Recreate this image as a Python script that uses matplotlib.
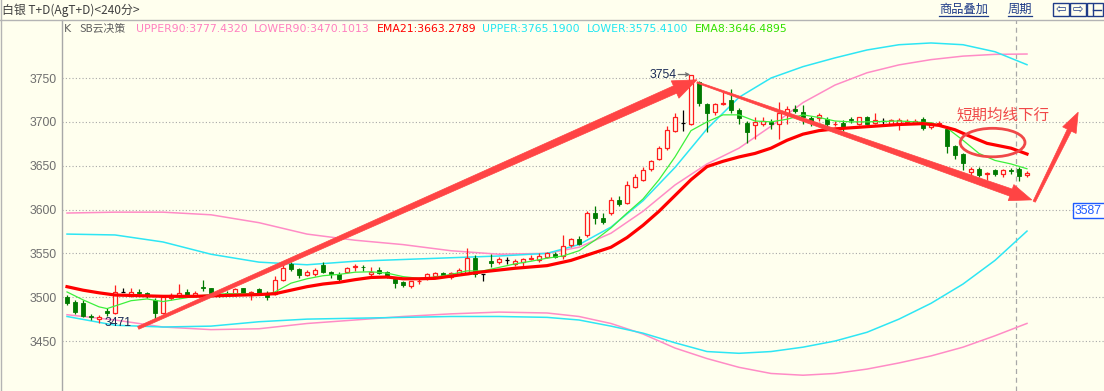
import numpy as np
import matplotlib

matplotlib.use("Agg")
import matplotlib.pyplot as plt
from matplotlib.lines import Line2D
from matplotlib.patches import Ellipse, FancyArrowPatch, Polygon, Rectangle
from matplotlib.transforms import IdentityTransform

# --- candles (240-minute bars)
OPEN = [3500, 3494, 3493, 3478, 3475, 3484, 3482, 3506, 3502, 3506,
        3505, 3497, 3482, 3499, 3501, 3506, 3503, 3512, 3510, 3503,
        3505, 3503, 3510, 3503, 3509, 3505, 3504, 3520, 3538, 3532,
        3525, 3527, 3537, 3529, 3527, 3529, 3534, 3535, 3526, 3531,
        3529, 3521, 3517, 3513, 3518, 3523, 3524, 3528, 3523, 3527,
        3527, 3545, 3527, 3541, 3540, 3543, 3538, 3540, 3544, 3542,
        3546, 3549, 3547, 3559, 3566, 3571, 3596, 3590, 3596, 3611,
        3608, 3626, 3634, 3646, 3658, 3670, 3690, 3699, 3698, 3745,
        3720, 3711, 3720, 3725, 3713, 3699, 3696, 3697, 3700, 3697,
        3709, 3715, 3711, 3704, 3704, 3703, 3697, 3699, 3703, 3698,
        3705, 3699, 3701, 3698, 3698, 3700, 3699, 3703, 3694, 3698,
        3692, 3672, 3663, 3643, 3646, 3641, 3645, 3641, 3645, 3646,
        3639]
HIGH = [3502, 3497, 3497, 3481, 3480, 3488, 3514, 3511, 3510, 3509,
        3506, 3499, 3502, 3505, 3515, 3509, 3507, 3520, 3511, 3507,
        3507, 3511, 3511, 3507, 3511, 3507, 3524, 3539, 3540, 3533,
        3531, 3533, 3540, 3530, 3529, 3534, 3538, 3537, 3534, 3534,
        3530, 3522, 3518, 3519, 3522, 3528, 3529, 3529, 3529, 3533,
        3556, 3548, 3527, 3549, 3546, 3546, 3544, 3545, 3548, 3550,
        3552, 3551, 3571, 3568, 3570, 3598, 3604, 3596, 3614, 3615,
        3632, 3640, 3648, 3657, 3672, 3695, 3710, 3714, 3754, 3747,
        3722, 3722, 3734, 3737, 3716, 3701, 3705, 3706, 3703, 3723,
        3718, 3719, 3719, 3707, 3710, 3705, 3701, 3702, 3705, 3706,
        3707, 3710, 3704, 3703, 3704, 3703, 3703, 3705, 3700, 3701,
        3695, 3674, 3664, 3648, 3649, 3643, 3646, 3646, 3647, 3648,
        3644]
LOW = [3491, 3481, 3477, 3474, 3471, 3478, 3481, 3506, 3500, 3502,
       3499, 3473, 3481, 3497, 3499, 3502, 3502, 3507, 3503, 3500,
       3501, 3501, 3502, 3497, 3503, 3497, 3502, 3518, 3530, 3522,
       3524, 3524, 3528, 3522, 3519, 3528, 3530, 3530, 3524, 3526,
       3522, 3510, 3512, 3511, 3515, 3520, 3522, 3524, 3521, 3525,
       3526, 3523, 3519, 3534, 3538, 3538, 3536, 3533, 3542, 3540,
       3545, 3545, 3544, 3557, 3560, 3569, 3584, 3584, 3594, 3604,
       3606, 3624, 3632, 3644, 3656, 3668, 3688, 3690, 3696, 3718,
       3688, 3708, 3719, 3710, 3697, 3676, 3680, 3695, 3692, 3681,
       3698, 3710, 3697, 3695, 3701, 3691, 3695, 3690, 3699, 3696,
       3697, 3697, 3698, 3697, 3691, 3698, 3697, 3691, 3692, 3696,
       3664, 3658, 3645, 3632, 3637, 3634, 3638, 3637, 3640, 3632,
       3637]
CLOSE = [3493, 3483, 3479, 3477, 3477, 3482, 3506, 3506, 3506, 3505,
         3501, 3482, 3500, 3503, 3505, 3503, 3505, 3511, 3505, 3501,
         3502, 3509, 3504, 3506, 3505, 3500, 3520, 3533, 3532, 3525,
         3529, 3531, 3529, 3526, 3521, 3533, 3536, 3534, 3529, 3528,
         3524, 3516, 3514, 3518, 3519, 3527, 3528, 3525, 3528, 3531,
         3545, 3526, 3527, 3539, 3544, 3543, 3541, 3544, 3545, 3547,
         3550, 3546, 3558, 3566, 3561, 3596, 3590, 3586, 3611, 3606,
         3628, 3637, 3645, 3655, 3670, 3691, 3705, 3699, 3753, 3721,
         3710, 3720, 3722, 3713, 3704, 3688, 3700, 3701, 3697, 3710,
         3715, 3712, 3706, 3700, 3708, 3697, 3698, 3693, 3702, 3705,
         3698, 3702, 3701, 3702, 3702, 3701, 3701, 3693, 3699, 3699,
         3672, 3662, 3653, 3646, 3639, 3642, 3640, 3645, 3644, 3638,
         3642]

# --- indicator lines, sampled at these bar indices
EMA21_IDX = [0, 2, 4, 6, 8, 12, 16, 20, 24, 26, 28, 30, 32, 34, 36, 38, 40, 42,
             44, 46, 48, 52, 56, 60, 63, 65, 68, 70, 72, 74, 76, 78, 80, 82,
             84, 86, 88, 90, 92, 94, 96, 100, 104, 107, 109, 111, 113, 115,
             118, 120]
EMA21 = [3512, 3508, 3505, 3502.5, 3502, 3501, 3501, 3502, 3503, 3504,
         3508, 3512, 3515, 3517, 3520, 3522.5, 3523, 3521, 3521, 3521.5,
         3524, 3529, 3533, 3536, 3542, 3548, 3557, 3568, 3582, 3598,
         3616, 3634, 3649, 3655, 3660, 3664, 3670, 3679, 3686, 3690,
         3692, 3694.5, 3697, 3698, 3696, 3691, 3683, 3675.5, 3670, 3663.3]

EMA8_IDX = [0, 2, 4, 5, 6, 8, 10, 12, 14, 16, 18, 20, 22, 24, 25, 26, 27, 28,
            30, 32, 34, 36, 38, 40, 42, 44, 46, 48, 50, 52, 54, 56, 58, 60,
            62, 64, 66, 68, 70, 72, 74, 76, 78, 80, 82, 84, 86, 88, 90, 92,
            94, 96, 98, 100, 104, 108, 110, 112, 114, 116, 118, 120]
EMA8 = [3506, 3497, 3489, 3487, 3490, 3496, 3498, 3495, 3498, 3501,
        3503, 3504, 3504, 3504, 3503, 3506, 3511, 3516, 3521, 3524.5,
        3526, 3528.5, 3529, 3527.5, 3523.5, 3521.5, 3523, 3526, 3530, 3530,
        3534, 3538, 3541, 3544.5, 3547, 3553, 3565, 3579, 3596, 3612,
        3634, 3660, 3690, 3700, 3708, 3708, 3701, 3700, 3703, 3708,
        3705, 3701, 3700, 3700, 3701, 3699, 3693, 3679, 3664, 3656,
        3652, 3646.5]

BAND_IDX = [0, 6, 12, 18, 24, 30, 36, 42, 48, 54, 60, 64, 68, 72, 76, 80,
            84, 88, 92, 96, 100, 104, 108, 112, 116, 120]
UPPER = [3572, 3571, 3563, 3549, 3540, 3537, 3541, 3543, 3545, 3547,
         3550, 3560, 3580, 3610, 3648, 3692, 3728, 3750, 3763, 3773,
         3782, 3788, 3790, 3788, 3780, 3765.2]
LOWER = [3478, 3468, 3466, 3467, 3472, 3475, 3476, 3477, 3478, 3478,
         3477, 3474, 3467, 3459, 3448, 3438, 3436, 3438, 3443, 3450,
         3460, 3475, 3493, 3515, 3542, 3575.4]
UPPER90 = [3596, 3597, 3597, 3594, 3585, 3572, 3565, 3560, 3553, 3549,
           3550, 3557, 3573, 3598, 3628, 3652, 3670, 3695, 3722, 3742,
           3756, 3765, 3771, 3775, 3777, 3777.4]
LOWER90 = [3480, 3474, 3466, 3463, 3464, 3470, 3474, 3478, 3481, 3483,
           3482, 3478, 3470, 3458, 3442, 3430, 3420, 3413, 3411, 3413,
           3418, 3425, 3433, 3443, 3456, 3470.1]

Y_TICKS = [3450, 3500, 3550, 3600, 3650, 3700, 3750]

LEGEND = [("UPPER90:3777.4320", "#FF80C0", 136), ("LOWER90:3470.1013", "#FF80C0", 254),
          ("EMA21:3663.2789", "#FF0000", 377), ("UPPER:3765.1900", "#22E6F2", 482),
          ("LOWER:3575.4100", "#22E6F2", 587), ("EMA8:3646.4895", "#33E000", 695)]

W, H = 1104, 391
BG = "#FFFFEE"
RED = "#FF1E1E"
GREEN = "#007A00"
ARROW = "#FF4444"
NAVY = "#1F3C88"
CJK = ["Noto Sans CJK SC", "DejaVu Sans"]


def fx(px):
    return px / W


def fy(py):
    return 1 - py / H


fig = plt.figure(figsize=(W / 100, H / 100), dpi=100)
fig.patch.set_facecolor(BG)

ax = fig.add_axes([fx(62), 0, 1 - fx(62), fy(20)])
ax.set_facecolor(BG)
ax.set_xlim(-0.625, 129.625)
ax.set_ylim(3393, 3816.2)

# --- grid / axis
ax.set_yticks(Y_TICKS)
ax.set_yticklabels([str(v) for v in Y_TICKS], family="Liberation Sans", fontsize=8.8, color="#6E6E6E")
ax.tick_params(axis="y", length=0, pad=3.6)
ax.set_xticks([])
ax.grid(axis="y", linestyle=(0, (1, 2)), color="#A8A8A8", linewidth=0.8)
for side in ["top", "right", "bottom"]:
    ax.spines[side].set_visible(False)
ax.spines["left"].set_color("#A8A8A8")
ax.spines["left"].set_linewidth(1.0)

# --- bands
idx = np.arange(len(OPEN))
ax.plot(BAND_IDX, UPPER90, color="#FF8CC6", lw=1.1, zorder=2)
ax.plot(BAND_IDX, LOWER90, color="#FF8CC6", lw=1.1, zorder=2)
ax.plot(BAND_IDX, UPPER, color="#2EE6F4", lw=1.1, zorder=2)
ax.plot(BAND_IDX, LOWER, color="#2EE6F4", lw=1.1, zorder=2)

# --- candles
o = np.array(OPEN, float)
h = np.array(HIGH, float)
l = np.array(LOW, float)
c = np.array(CLOSE, float)
up = c > o
dn = c < o
fl = c == o
bw = 0.62

ax.vlines(idx[up], c[up], h[up], color=RED, lw=0.9, zorder=3)
ax.vlines(idx[up], l[up], o[up], color=RED, lw=0.9, zorder=3)
ax.bar(idx[up], c[up] - o[up], bottom=o[up], width=bw, facecolor=BG, edgecolor=RED, linewidth=0.9, zorder=3)

ax.vlines(idx[dn], l[dn], h[dn], color=GREEN, lw=0.9, zorder=3)
ax.bar(idx[dn], o[dn] - c[dn], bottom=c[dn], width=bw, facecolor=GREEN, edgecolor=GREEN, linewidth=0.6, zorder=3)

ax.vlines(idx[fl], l[fl], h[fl], color="black", lw=0.9, zorder=3)
ax.hlines(c[fl], idx[fl] - bw / 2, idx[fl] + bw / 2, color="black", lw=0.9, zorder=3)

# --- moving averages
ax.plot(EMA8_IDX, EMA8, color="#3CF03C", lw=0.9, zorder=4)
ax.plot(EMA21_IDX, EMA21, color="#FF0000", lw=2.3, zorder=4)

# current-bar dashed marker
ax.axvline(118.6, color="#A8A8A8", lw=0.9, linestyle=(0, (4, 3)), zorder=1)

# --- high / low labels
hi_i = int(np.argmax(h))
lo_i = int(np.argmin(l))
ax.text(hi_i - 1.75, h[hi_i], f"{h[hi_i]:.0f}", ha="right", va="center",
        family="Liberation Sans", fontsize=8.8, color="#1A2A55", zorder=6)
ax.annotate("", xy=(hi_i - 0.1, h[hi_i]), xytext=(hi_i - 1.6, h[hi_i]),
            arrowprops=dict(arrowstyle="->", color="#707070", lw=0.9, shrinkA=0, shrinkB=0,
                            mutation_scale=6), zorder=6)
ax.text(lo_i + 0.75, l[lo_i] - 1, f"{l[lo_i]:.0f}", ha="left", va="center",
        family="Liberation Sans", fontsize=8.8, color="#1A2A55", zorder=6)


# --- hand-drawn annotations (tapered arrows), anchored at (bar index, price)
def tapered_arrow(p0, p1, w0, w1, hw, hl):
    a = ax.transData.transform(p0)
    b = ax.transData.transform(p1)
    d = (b - a) / np.hypot(*(b - a))
    n = np.array([-d[1], d[0]])
    base = b - d * hl
    pts = [a + n * w0 / 2, base + n * w1 / 2, base + n * hw / 2, b,
           base - n * hw / 2, base - n * w1 / 2, a - n * w0 / 2]
    poly = Polygon(pts, closed=True, facecolor=ARROW, edgecolor=ARROW, lw=0.5,
                   transform=IdentityTransform())
    fig.add_artist(poly)


tapered_arrow((8.9, 3465), (78.75, 3748), 3, 8, 19, 24)
tapered_arrow((78.75, 3745), (120.6, 3611), 1.5, 7.5, 17, 22)
tapered_arrow((120.9, 3609), (126.4, 3711), 2.5, 4.5, 15, 20)

ax.add_patch(Ellipse((115.7, 3676.4), width=8.1, height=32.5, fill=False,
                     edgecolor="#F04848", lw=2.0, zorder=6))
ax.text(117.0, 3707.8, "短期均线下行", ha="center", va="center", family=CJK,
        fontsize=11.2, color="#F04848", zorder=6)

# --- price tag on the right
fig.add_artist(Rectangle((fx(1073), fy(218)), fx(40), fy(203) - fy(218), facecolor="white",
                         edgecolor="#1E5AFF", lw=1.0, transform=fig.transFigure))
fig.text(fx(1075), fy(210.5), "3587", ha="left", va="center", family="Liberation Sans",
         fontsize=8.8, color="#1E5AFF")

# --- header
fig.add_artist(Line2D([0, 1], [fy(19.5), fy(19.5)], color="#B4B4B4", lw=1.0))
fig.add_artist(Line2D([fx(0.5), fx(0.5)], [0, 1], color="#B4B4B4", lw=1.0))
fig.text(fx(2), fy(10), "白银 T+D(AgT+D)<240分>", ha="left", va="center",
         family=CJK, fontsize=8.6, color="#404040")

fig.text(fx(939), fy(9), "商品叠加", ha="left", va="center", family=CJK, fontsize=8.8, color=NAVY)
fig.add_artist(Line2D([fx(939), fx(988)], [fy(16), fy(16)], color=NAVY, lw=0.9))
fig.text(fx(1008), fy(9), "周期", ha="left", va="center", family=CJK, fontsize=8.8, color=NAVY)
fig.add_artist(Line2D([fx(1008), fx(1032)], [fy(16), fy(16)], color=NAVY, lw=0.9))
for k, sym in enumerate(["⇦", "⇨", ""]):
    x0 = 1053 + k * 17
    fig.add_artist(Rectangle((fx(x0), fy(16)), fx(16), fy(3) - fy(16), facecolor=BG,
                             edgecolor=NAVY, lw=1.0, transform=fig.transFigure))
    if sym:
        fig.text(fx(x0 + 8), fy(9.5), sym, ha="center", va="center", family="DejaVu Sans",
                 fontsize=9, color=NAVY)
fig.add_artist(Line2D([fx(1093), fx(1093)], [fy(4), fy(15)], color=NAVY, lw=1.0))
fig.add_artist(Line2D([fx(1093), fx(1101)], [fy(9.5), fy(9.5)], color=NAVY, lw=1.0))

# --- indicator legend row
fig.text(fx(64), fy(29), "K", ha="left", va="center", family="DejaVu Sans", fontsize=7.8, color="#606060")
fig.text(fx(79), fy(29), "SB云决策", ha="left", va="center", family=CJK, fontsize=7.8, color="#606060")
for label, col, px in LEGEND:
    fig.text(fx(px), fy(29), label, ha="left", va="center", family="DejaVu Sans",
             fontsize=7.8, color=col)

fig.savefig("out.png", dpi=100, facecolor=BG)
